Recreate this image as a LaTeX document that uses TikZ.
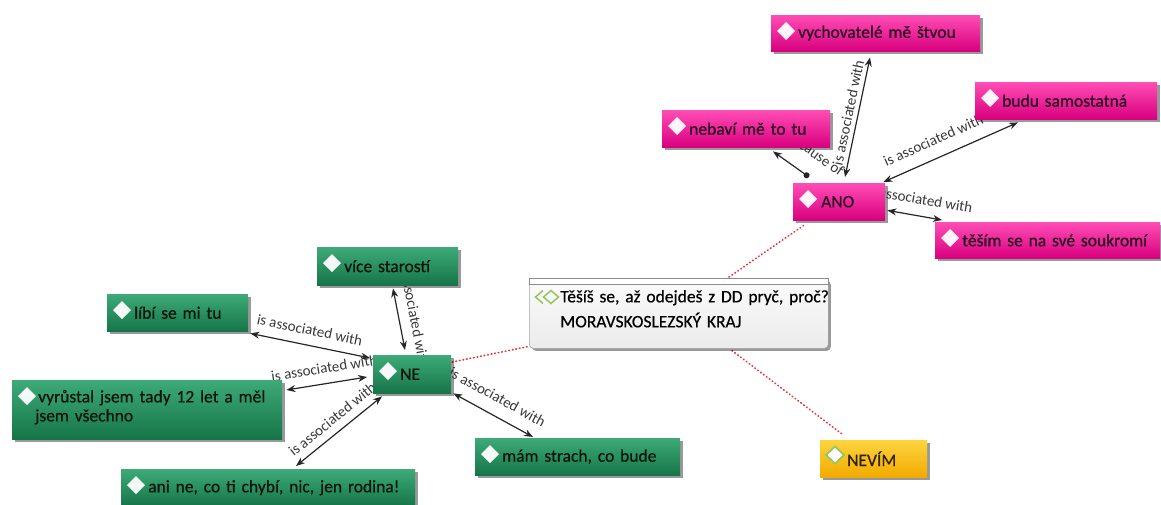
\documentclass[tikz,border=0pt]{standalone}
\usepackage{fontspec}
\setmainfont{Carlito}
\newfontfamily\nodefont{Carlito}[FakeBold=0.5]
\usetikzlibrary{arrows.meta,calc,shadows}
\definecolor{pinkT}{HTML}{FF4DB5}
\definecolor{pinkB}{HTML}{D8007E}
\definecolor{greenT}{HTML}{3DAA78}
\definecolor{greenB}{HTML}{167548}
\definecolor{yelT}{HTML}{FDD43F}
\definecolor{yelB}{HTML}{F2AA00}
\definecolor{pinkText}{HTML}{2A0522}
\definecolor{greenText}{HTML}{06140B}
\definecolor{yelText}{HTML}{2E2000}
\definecolor{iconGreen}{HTML}{94C75E}
\definecolor{dotRed}{HTML}{E53535}
\definecolor{lblGray}{HTML}{383838}
\definecolor{cenT}{HTML}{FBFBFB}
\definecolor{cenB}{HTML}{EBEBEB}
\pgfdeclarelayer{bg}
\pgfsetlayers{bg,main}
\tikzset{
  box/.style={anchor=north west, inner sep=0pt, align=left,
    font=\nodefont\fontsize{17.5}{19}\selectfont,
    drop shadow={shadow xshift=2.5pt, shadow yshift=-2.5pt, opacity=0.4, fill=black}},
  pinkbox/.style={box, top color=pinkT, bottom color=pinkB, text=pinkText},
  greenbox/.style={box, top color=greenT, bottom color=greenB, text=greenText},
  yellowbox/.style={box, top color=yelT, bottom color=yelB, text=yelText},
  centerbox/.style={box, top color=cenT, bottom color=cenB, draw=black!35,
    line width=0.6pt, rounded corners=4pt, text=black,
    font=\nodefont\fontsize{17.5}{25}\selectfont},
  iconfill/.style={fill=white, fill opacity=0.95},
  lbl/.style={sloped, anchor=center, inner sep=0pt, text=lblGray,
    font=\fontsize{15}{15}\selectfont},
  biarrow/.style={line width=1.2pt, draw=black!85,
    arrows={Stealth[length=9pt,width=7pt]-Stealth[length=9pt,width=7pt]}},
  causearrow/.style={line width=1.2pt, draw=black!85,
    arrows={Stealth[length=9pt,width=7pt]-Circle[length=6pt]}},
  reddot/.style={draw=dotRed, line width=1.7pt, line cap=round, dash pattern=on 0.6pt off 3pt}
}
\begin{document}
\begin{tikzpicture}[x=1pt,y=-1pt]
\useasboundingbox (0,0) rectangle (1161,504);
% pink nodes
\node[pinkbox, minimum width=209pt, text width=209pt, minimum height=36pt] (vych) at (771,15) {\hspace*{27pt}vychovatelé mě štvou};
\node[pinkbox, minimum width=168pt, text width=168pt, minimum height=37pt] (neb) at (662,110) {\hspace*{27pt}nebaví mě to tu};
\node[pinkbox, minimum width=182pt, text width=182pt, minimum height=37pt] (budu) at (975,82) {\hspace*{27pt}budu samostatná};
\node[pinkbox, minimum width=92pt, text width=92pt, minimum height=37pt] (ANO) at (793,183) {\hspace*{28pt}ANO};
\node[pinkbox, minimum width=225pt, text width=225pt, minimum height=36pt] (tesim) at (935,222) {\hspace*{27pt}těším se na své soukromí};
% green nodes
\node[greenbox, minimum width=141pt, text width=141pt, minimum height=38pt] (vice) at (317,247) {\hspace*{27pt}více starostí};
\node[greenbox, minimum width=141pt, text width=141pt, minimum height=37pt] (libi) at (107,294) {\hspace*{27pt}líbí se mi tu};
\node[greenbox, minimum width=78pt, text width=78pt, minimum height=38pt] (NE) at (373,355) {\hspace*{27pt}NE};
\node[greenbox, minimum width=270pt, text width=270pt, minimum height=59pt] (vyr) at (12,380) {\hspace*{26pt}vyrůstal jsem tady 12 let a měl\\\hspace*{23pt}jsem všechno\par\vspace{5pt}};
\node[greenbox, minimum width=294pt, text width=294pt, minimum height=37pt] (ani) at (121,469) {\hspace*{27pt}ani ne, co ti chybí, nic, jen rodina!};
\node[greenbox, minimum width=205pt, text width=205pt, minimum height=37pt] (mam) at (475,438) {\hspace*{27pt}mám strach, co bude};
% yellow node
\node[yellowbox, minimum width=107pt, text width=107pt, minimum height=37pt] (nevim) at (820,440) {\hspace*{27pt}NEVÍM};
% central node
\node[centerbox, minimum width=299pt, text width=299pt, minimum height=70pt] (central) at (529,278)
  {\mbox{\hspace*{31pt}Těšíš se, až odejdeš z DD pryč, proč?}\\
   \mbox{\hspace*{31pt}MORAVSKOSLEZSKÝ KRAJ}\par\vspace{9pt}};
\draw[fill=white, draw=black!45, line width=0.6pt] (central.north west) rectangle ([yshift=-6pt]central.north east);
% icons
\foreach \n in {vych,neb,budu,ANO,tesim,vice,libi,NE,vyr,ani,mam}
  \fill[iconfill] ([xshift=15pt,yshift=-16pt]\n.north west)
    +(-9pt,0pt) -- +(0pt,9pt) -- +(9pt,0pt) -- +(0pt,-9pt) -- cycle;
\filldraw[fill=white, draw=iconGreen, line width=1.8pt, line join=miter]
  ([xshift=15pt,yshift=-15pt]nevim.north west)
    +(-9pt,0pt) -- +(0pt,8.5pt) -- +(9pt,0pt) -- +(0pt,-8.5pt) -- cycle;
\draw[draw=iconGreen, line width=1.5pt]
  ([xshift=22pt,yshift=-19pt]central.north west)
    +(-7.5pt,0pt) -- +(0pt,6.5pt) -- +(7.5pt,0pt) -- +(0pt,-6.5pt) -- cycle;
\draw[draw=iconGreen, line width=1.5pt]
  ([xshift=14pt,yshift=-19pt]central.north west)
    +(0pt,6.5pt) -- +(-7.5pt,0pt) -- +(0pt,-6.5pt);
% connectors
\begin{pgfonlayer}{bg}
\draw[reddot] ($(central.north west)+(200,-1)$) -- ($(ANO.south west)+(12,4)$);
\draw[reddot] ($(NE.north east)+(1,7)$) -- ($(central.south west)+(-1,-2)$);
\draw[reddot] ($(central.south west)+(203,2)$) -- ($(nevim.north west)+(22,-6)$);
\draw[causearrow] ($(neb.south west)+(111,4)$) --
  node[lbl, pos=.84, yshift=23pt] (l1) {is cause of} ($(ANO.north west)+(16,-6)$);
\draw[biarrow] ($(ANO.north west)+(52,-6)$) --
  node[lbl, pos=.52, yshift=10pt] (l2) {is associated with} ($(vych.south west)+(99,6)$);
\draw[biarrow] ($(ANO.north east)+(-2,-1)$) --
  node[lbl, pos=.425, yshift=18pt] (l3) {is associated with} ($(budu.south west)+(43,3)$);
\draw[biarrow] ($(ANO.south east)+(2,-10)$) --
  node[lbl, pos=.535, yshift=17pt] (l4) {is associated with} ($(tesim.north west)+(7,-2)$);
\draw[biarrow] ($(vice.south west)+(76,3)$) --
  node[lbl, pos=.47, yshift=16pt] (l5) {is associated with} ($(NE.north west)+(32,-5)$);
\draw[biarrow] ($(libi.south east)+(2,2)$) --
  node[lbl, pos=.47, yshift=15.5pt] (l6) {is associated with} ($(NE.north west)+(-3,3)$);
\draw[biarrow] ($(vyr.north east)+(4,10)$) --
  node[lbl, pos=.5, yshift=15.5pt] (l7) {is associated with} ($(NE.north west)+(-6,22)$);
\draw[biarrow] ($(ani.north west)+(175,-3)$) --
  node[lbl, pos=.52, yshift=13.5pt] (l8) {is associated with} ($(NE.south west)+(9,3)$);
\draw[biarrow] ($(NE.south east)+(2,0)$) --
  node[lbl, pos=.447, yshift=18pt] (l9) {is associated with} ($(mam.north west)+(58,-1)$);
\end{pgfonlayer}
\end{tikzpicture}
\end{document}
